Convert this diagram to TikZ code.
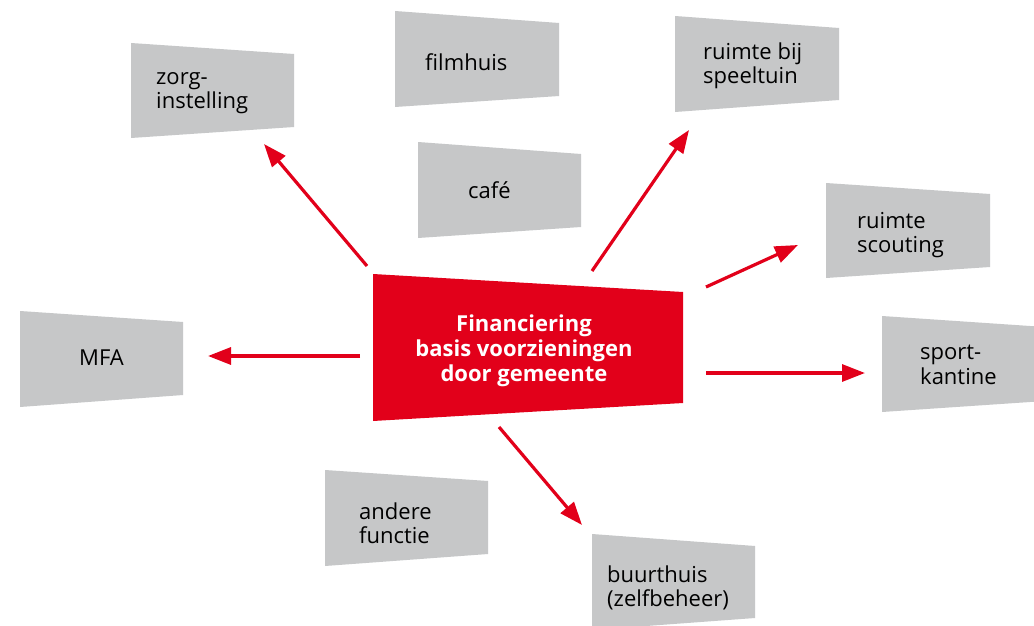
\documentclass[tikz,border=0pt]{standalone}
\usepackage{fontspec}
\setmainfont{Open Sans}
\usetikzlibrary{arrows.meta}
\definecolor{boxgrey}{HTML}{C6C7C8}
\definecolor{boxred}{HTML}{E2001A}
\begin{document}
\begin{tikzpicture}[x=1pt,y=-1pt,
  gbox/.style={fill=boxgrey},
  rbox/.style={fill=boxred},
  gtext/.style={anchor=west,align=left,inner sep=0pt,font=\fontsize{22}{24.5}\selectfont},
  rtext/.style={align=center,inner sep=0pt,text=white,font=\bfseries\fontsize{22}{25}\selectfont},
  arr/.style={draw=boxred,line width=3.2pt,-{Triangle[length=23pt,width=17pt]}}]
\clip (0,0) rectangle (1034,626);
\fill[white] (0,0) rectangle (1034,626);

% boxes
\fill[gbox] (131,43) -- (294,54) -- (294,127) -- (131,138) -- cycle;
\fill[gbox] (395,11) -- (559,23) -- (559,96) -- (395,107) -- cycle;
\fill[gbox] (418,142) -- (581,154) -- (581,227) -- (418,238) -- cycle;
\fill[gbox] (675,16) -- (839,28) -- (839,100) -- (675,112) -- cycle;
\fill[gbox] (826,183) -- (990,194) -- (990,267) -- (826,278) -- cycle;
\fill[gbox] (20,311) -- (183,322) -- (183,395) -- (20,407) -- cycle;
\fill[gbox] (882,316) -- (1045,327) -- (1045,401) -- (882,412) -- cycle;
\fill[gbox] (325,470) -- (488,481) -- (488,554) -- (325,566) -- cycle;
\fill[gbox] (592,534) -- (755,546) -- (755,618) -- (592,630) -- cycle;
\fill[rbox] (373,274) -- (683,292) -- (683,403) -- (373,421) -- cycle;

% texts
\node[gtext] (zorg) at (156,93) {zorg-\\instelling};
\node[gtext] (film) at (425,62) {filmhuis};
\node[gtext] (cafe) at (468,190) {café};
\node[gtext] (speel) at (703,66) {ruimte bij\\speeltuin};
\node[gtext] (scout) at (857,235) {ruimte\\scouting};
\node[gtext] (mfa) at (79,358) {MFA};
\node[gtext] (sport) at (920,365) {sport-\\kantine};
\node[gtext] (andere) at (359,523) {andere\\functie};
\node[gtext] (buurt) at (607,588) {buurthuis\\(zelfbeheer)};
\node[rtext] (fin) at (524,351) {Financiering\\basis voorzieningen\\door gemeente};

% connector ends
\coordinate (s1) at (367,266); \coordinate (t1) at (264,144);
\coordinate (s2) at (592,271); \coordinate (t2) at (689,130);
\coordinate (s3) at (706,287); \coordinate (t3) at (798,245);
\coordinate (s4) at (360,356); \coordinate (t4) at (208,356);
\coordinate (s5) at (706,373); \coordinate (t5) at (865,373);
\coordinate (s6) at (499,427); \coordinate (t6) at (582,525);

\draw[arr] (s1) -- (t1);
\draw[arr] (s2) -- (t2);
\draw[arr] (s3) -- (t3);
\draw[arr] (s4) -- (t4);
\draw[arr] (s5) -- (t5);
\draw[arr] (s6) -- (t6);
\end{tikzpicture}
\end{document}
